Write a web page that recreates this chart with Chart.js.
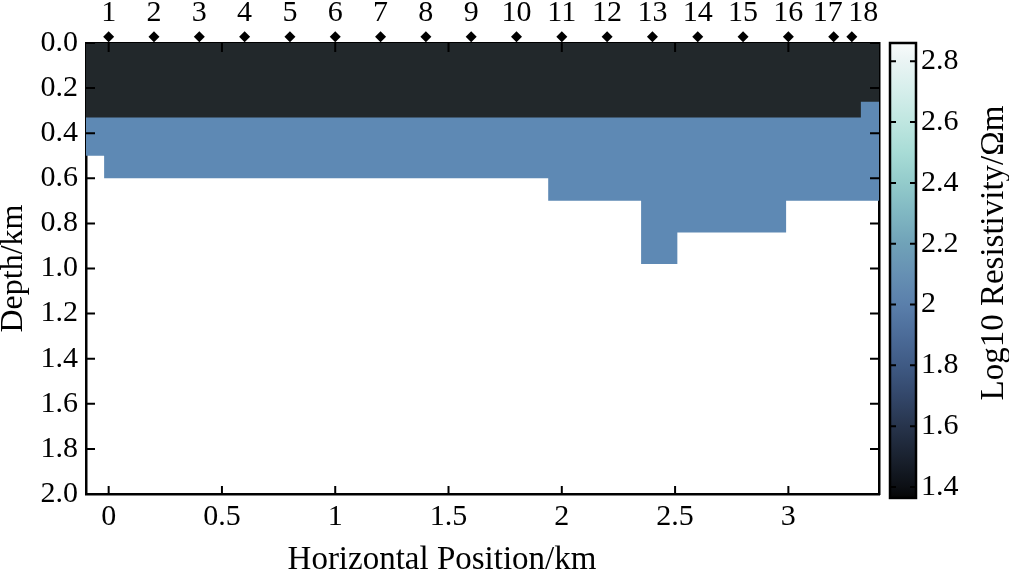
<!DOCTYPE html>
<html>
<head>
<meta charset="utf-8">
<script src="https://cdn.jsdelivr.net/npm/chart.js@4.4.1/dist/chart.umd.min.js"></script>
<style>
html, body { margin:0; padding:0; background:#fff; overflow:hidden; }
#wrap { position:relative; width:1009px; height:571px; }
</style>
</head>
<body>
<div id="wrap"><canvas id="chart" width="1009" height="571"></canvas></div>
<script>
// ---------------- data ----------------
const cellEdgesKm = [-0.1, -0.02, 1.94, 2.35, 2.51, 2.99, 3.32, 3.4];
const conductorBottomKm = [0.33, 0.33, 0.33, 0.33, 0.33, 0.33, 0.26];
const middleLayerBottomKm = [0.50, 0.60, 0.70, 0.98, 0.84, 0.70, 0.70];

const stationNames = ['1','2','3','4','5','6','7','8','9','10','11','12','13','14','15','16','17','18'];
const stationPosKm = [0, 0.2, 0.4, 0.6, 0.8, 1.0, 1.2, 1.4, 1.6, 1.8, 2.0, 2.2, 2.4, 2.6, 2.8, 3.0, 3.2, 3.28];
const stationLabelPosKm = [0, 0.2, 0.4, 0.6, 0.8, 1.0, 1.2, 1.4, 1.6, 1.8, 2.0, 2.2, 2.4, 2.6, 2.8, 3.0, 3.174, 3.33];

const xTickValues = [0, 0.5, 1, 1.5, 2, 2.5, 3];
const depthTickValues = [0, 0.2, 0.4, 0.6, 0.8, 1.0, 1.2, 1.4, 1.6, 1.8, 2.0];
const cbTickValues = [1.4, 1.6, 1.8, 2.0, 2.2, 2.4, 2.6, 2.8];
const cbTickLabels = ['1.4', '1.6', '1.8', '2', '2.2', '2.4', '2.6', '2.8'];
const cbValueRange = [1.364, 2.86];
const cbColorStops = [
  [1.364, '#050505'], [1.4, '#0c0f14'], [1.5, '#1a2230'], [1.6, '#27344c'],
  [1.7, '#33476a'], [1.8, '#3f5a84'], [1.9, '#4c6c99'], [2.0, '#5a7fab'],
  [2.1, '#6690b3'], [2.2, '#70a2b8'], [2.3, '#80b7c2'], [2.4, '#93cbcb'],
  [2.5, '#a8dcd6'], [2.6, '#bfe6e0'], [2.7, '#d5eeeb'], [2.8, '#eaf4f4'], [2.86, '#f8fbfb']
];

// ---------------- styles ----------------
const FONT = '"Liberation Serif", "Times New Roman", serif';
const DARK = '#22282b';
const BLUE = '#5e89b4';
const MARKER_DEPTH = -0.028;   // station symbols sit just above the surface
Chart.defaults.font.family = FONT;
Chart.defaults.color = '#000';

function stepOutline(edges, depths) {
  const pts = [];
  depths.forEach((d, i) => { pts.push({x: edges[i], y: d}); pts.push({x: edges[i + 1], y: d}); });
  return pts;
}

const extras = {
  id: 'extras',
  afterDraw(chart) {
    const ctx = chart.ctx;
    const a = chart.chartArea;
    const xs = chart.scales.x, ys = chart.scales.y, cs = chart.scales.cb;
    ctx.save();
    // inner tick marks
    ctx.strokeStyle = '#000';
    ctx.lineWidth = 2;
    ctx.beginPath();
    depthTickValues.forEach(v => {
      const y = ys.getPixelForValue(v);
      ctx.moveTo(a.left, y); ctx.lineTo(a.left + 9, y);
      ctx.moveTo(a.right - 9, y); ctx.lineTo(a.right, y);
    });
    xTickValues.forEach(v => {
      const x = xs.getPixelForValue(v);
      ctx.moveTo(x, a.bottom); ctx.lineTo(x, a.bottom - 8);
      ctx.moveTo(x, a.top); ctx.lineTo(x, a.top + 9);
    });
    ctx.stroke();

    // station markers (diamonds)
    ctx.fillStyle = '#000';
    const r = 5.5;
    const ym = ys.getPixelForValue(MARKER_DEPTH);
    stationPosKm.forEach(v => {
      const x = xs.getPixelForValue(v);
      ctx.beginPath();
      ctx.moveTo(x, ym - r); ctx.lineTo(x + r, ym); ctx.lineTo(x, ym + r); ctx.lineTo(x - r, ym);
      ctx.closePath();
      ctx.fill();
    });

    // colorbar
    const cbL = 890, cbW = 26;
    const yTop = cs.getPixelForValue(cbValueRange[1]);
    const yBot = cs.getPixelForValue(cbValueRange[0]);
    const g = ctx.createLinearGradient(0, yBot, 0, yTop);
    cbColorStops.forEach(([v, c]) => {
      g.addColorStop((v - cbValueRange[0]) / (cbValueRange[1] - cbValueRange[0]), c);
    });
    ctx.fillStyle = g;
    ctx.fillRect(cbL, yTop, cbW, yBot - yTop);
    ctx.lineWidth = 2;
    ctx.beginPath();
    cbTickValues.forEach(v => {
      const y = cs.getPixelForValue(v);
      ctx.moveTo(cbL, y); ctx.lineTo(cbL + 6, y);
      ctx.moveTo(cbL + cbW - 6, y); ctx.lineTo(cbL + cbW, y);
    });
    ctx.stroke();
    ctx.lineWidth = 2.5;
    ctx.strokeRect(cbL, yTop, cbW, yBot - yTop);

    // titles
    ctx.fillStyle = '#000';
    ctx.font = '33px ' + FONT;
    ctx.textAlign = 'center';
    ctx.textBaseline = 'alphabetic';
    ctx.fillText('Horizontal Position/km', 442, 569);
    ctx.save();
    ctx.translate(1003, 253);
    ctx.rotate(-Math.PI / 2);
    ctx.font = '33px ' + FONT;
    ctx.fillText('Log10 Resistivity/\u03A9m', 0, 0);
    ctx.restore();
    ctx.restore();
  }
};

const tickFont = {family: FONT, size: 30};
const frame = {display: true, color: '#000', width: 2.5};

new Chart(document.getElementById('chart'), {
  type: 'line',
  data: {
    datasets: [
      {
        label: 'Conductive cover',
        data: stepOutline(cellEdgesKm, conductorBottomKm),
        borderWidth: 0,
        borderColor: 'rgba(0,0,0,0)',
        backgroundColor: DARK,
        pointRadius: 0,
        tension: 0,
        fill: {value: 0},
        order: 1
      },
      {
        label: 'Middle layer',
        data: stepOutline(cellEdgesKm, middleLayerBottomKm),
        borderWidth: 0,
        borderColor: 'rgba(0,0,0,0)',
        backgroundColor: BLUE,
        pointRadius: 0,
        tension: 0,
        fill: {value: 0},
        order: 2
      }
    ]
  },
  options: {
    responsive: false,
    animation: false,
    devicePixelRatio: 1,
    layout: {padding: 0, autoPadding: false},
    plugins: {legend: {display: false}, tooltip: {enabled: false}},
    scales: {
      x: {
        type: 'linear', position: 'bottom', min: -0.1, max: 3.4, z: 1,
        grid: {display: false, drawTicks: false},
        border: frame,
        afterBuildTicks: s => { s.ticks = xTickValues.map(v => ({value: v})); },
        afterFit: s => { s.height = 77; },
        ticks: {autoSkip: false, maxRotation: 0, minRotation: 0, padding: 5, color: '#000', font: tickFont,
                callback: v => String(v)}
      },
      xTop: {
        type: 'linear', position: 'top', min: -0.1, max: 3.4, z: 1,
        grid: {display: false, drawTicks: false},
        border: frame,
        afterBuildTicks: s => { s.ticks = stationLabelPosKm.map(v => ({value: v})); },
        afterFit: s => { s.height = 43; },
        ticks: {autoSkip: false, maxRotation: 0, minRotation: 0, padding: 12, color: '#000', font: tickFont,
                callback: (v, i) => stationNames[i]}
      },
      y: {
        type: 'linear', position: 'left', reverse: true, min: 0, max: 2, z: 1,
        grid: {display: false, drawTicks: false},
        border: frame,
        afterBuildTicks: s => { s.ticks = depthTickValues.map(v => ({value: v})); },
        afterFit: s => { s.width = 86; },
        ticks: {autoSkip: false, padding: 8, color: '#000', font: tickFont, callback: v => v.toFixed(1)},
        title: {display: true, text: 'Depth/km', color: '#000', padding: 0,
                font: {family: FONT, size: 32, lineHeight: 0.875}}
      },
      cb: {
        type: 'linear', position: 'right', min: 1.377, max: 2.86, z: 1,
        grid: {display: true, drawOnChartArea: false, drawTicks: true, tickLength: 42, tickColor: 'rgba(0,0,0,0)', color: 'rgba(0,0,0,0)'},
        border: frame,
        afterBuildTicks: s => { s.ticks = cbTickValues.map(v => ({value: v})); },
        afterFit: s => { s.width = 130; },
        ticks: {autoSkip: false, padding: 0, color: '#000', font: tickFont,
                callback: (v, i) => cbTickLabels[i]}
      }
    }
  },
  plugins: [extras]
});
</script>
</body>
</html>
